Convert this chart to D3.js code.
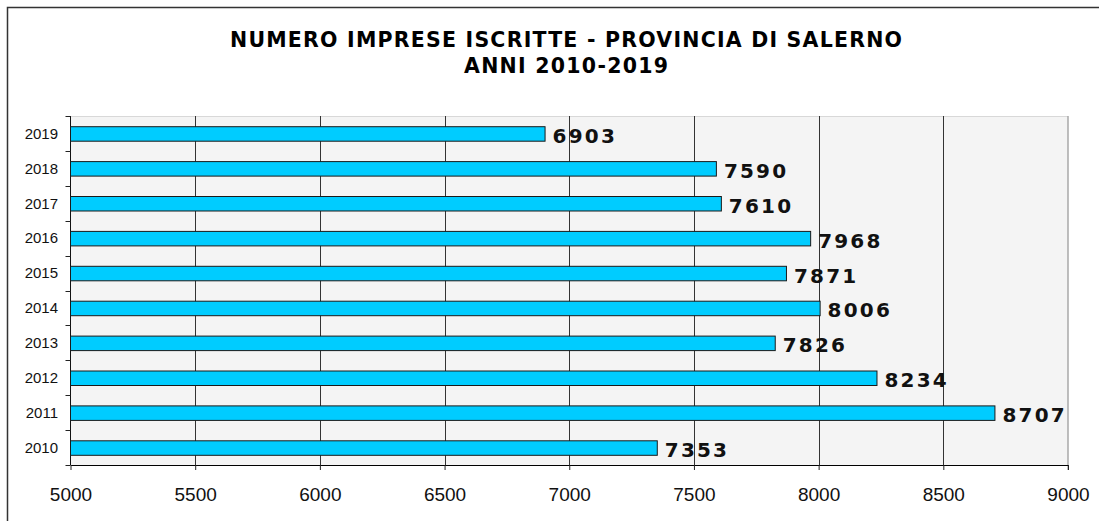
<!DOCTYPE html>
<html><head><meta charset="utf-8">
<script src="https://cdn.jsdelivr.net/npm/d3@7"></script>
<style>html,body{margin:0;padding:0;background:#fff;overflow:hidden}</style>
</head><body>
<svg id="c" width="1099" height="521"></svg>
<script>
const years = ["2019","2018","2017","2016","2015","2014","2013","2012","2011","2010"];
const values = [6903,7590,7610,7968,7871,8006,7826,8234,8707,7353];
const xTicks = [5000,5500,6000,6500,7000,7500,8000,8500,9000];
const titleLines = ["NUMERO IMPRESE ISCRITTE - PROVINCIA DI SALERNO","ANNI 2010-2019"];

const svg = d3.select("#c");
const L=70.5, R=1068, T=116, B=465;

// outer border (clipped by window on right/bottom)
svg.append("rect").attr("x",7.5).attr("y",7.5).attr("width",1200).attr("height",600)
  .attr("fill","none").attr("stroke","#333").attr("stroke-width",1.5);

// title
const tw=[672,204], tb=[46.5,73.3];
titleLines.forEach((t,i)=>{
  svg.append("text").attr("x",566).attr("y",tb[i]).attr("text-anchor","middle")
    .attr("font-family","DejaVu Sans").attr("font-weight","bold").attr("font-size",20.5)
    .attr("textLength",tw[i]).attr("lengthAdjust","spacing").attr("fill","#000").text(t);
});

const x = d3.scaleLinear().domain([5000,9000]).range([L,R]);
const y = d3.scaleBand().domain(years).range([T,B]).padding(0);

// plot background
svg.append("rect").attr("x",L).attr("y",T).attr("width",R-L).attr("height",B-T).attr("fill","#f4f4f4");
svg.append("line").attr("x1",L).attr("x2",R).attr("y1",T+0.5).attr("y2",T+0.5).attr("stroke","#d8d8d8");
svg.append("line").attr("x1",R).attr("x2",R).attr("y1",T).attr("y2",B+5).attr("stroke","#a8a8a8").attr("stroke-width",1.5);

// grid
svg.append("g").selectAll("line").data(xTicks.filter(d=>d>5000&&d<9000)).join("line")
  .attr("x1",d=>Math.round(x(d))+0.5).attr("x2",d=>Math.round(x(d))+0.5)
  .attr("y1",T).attr("y2",B).attr("stroke","#333").attr("stroke-width",1);

// x axis
const xa = svg.append("g").attr("transform",`translate(0,${B})`)
  .call(d3.axisBottom(x).tickValues(xTicks).tickSize(5).tickSizeOuter(0).tickFormat(d3.format("d")));
xa.select(".domain").attr("stroke","#000").attr("stroke-width",1.2);
xa.selectAll(".tick line").attr("stroke","#222");
xa.selectAll("text").attr("font-family","Liberation Sans, Arial").attr("font-size",19).attr("fill","#111").attr("dy",0).attr("y",35.5);

// y axis
svg.append("line").attr("x1",L).attr("x2",L).attr("y1",T).attr("y2",B).attr("stroke","#111");
const bounds = years.map(d=>y(d)).concat([B]);
svg.append("g").selectAll("line").data(bounds).join("line")
  .attr("x1",L-5).attr("x2",L).attr("y1",d=>Math.round(d)+0.5).attr("y2",d=>Math.round(d)+0.5).attr("stroke","#222");
svg.append("g").selectAll("text").data(years).join("text")
  .attr("x",58).attr("y",d=>y(d)+y.bandwidth()/2+5.3).attr("text-anchor","end")
  .attr("font-family","Liberation Sans, Arial").attr("font-size",15).attr("fill","#111").text(d=>d);

// bars
const bh = 14.5;
const data = years.map((d,i)=>({year:d,value:values[i]}));
svg.append("g").selectAll("rect").data(data).join("rect")
  .attr("x",x(5000)).attr("y",d=>y(d.year)+y.bandwidth()/2-bh/2+0.5)
  .attr("width",d=>x(d.value)-x(5000)).attr("height",bh)
  .attr("fill","#00ccff").attr("stroke","#1a1a1a").attr("stroke-width",1);

// labels
svg.append("g").selectAll("text").data(data).join("text")
  .attr("x",d=>x(d.value)+7.5).attr("y",d=>y(d.year)+y.bandwidth()/2+9.5)
  .attr("font-family","DejaVu Sans").attr("font-weight","bold").attr("font-size",20)
  .attr("letter-spacing",2.2).attr("fill","#111").text(d=>d.value);
</script>
</body></html>
